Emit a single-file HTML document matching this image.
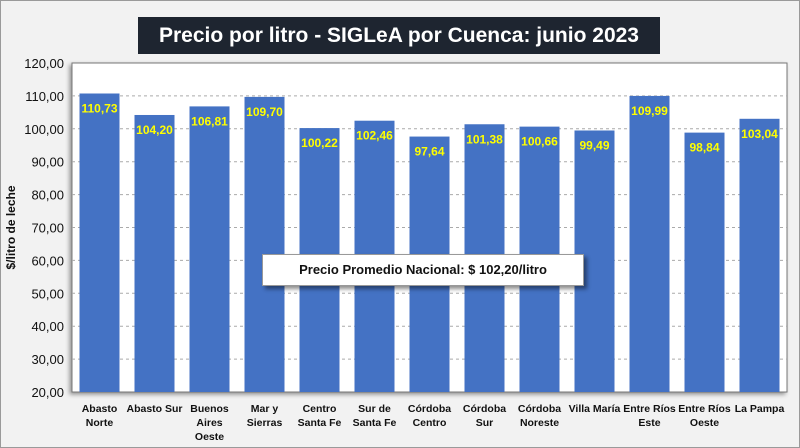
<!DOCTYPE html>
<html><head><meta charset="utf-8"><style>
body{margin:0;width:800px;height:448px;overflow:hidden;background:#f2f2f2;font-family:"Liberation Sans",Arial,sans-serif;}
#frame{position:absolute;left:0;top:0;width:798px;height:446px;border:1px solid #9a9a9a;background:#f2f2f2;}
#title{position:absolute;left:138px;top:17px;width:522px;height:37px;background:#1e2530;color:#fff;font-weight:bold;font-size:21px;line-height:37px;text-align:center;white-space:nowrap;}
#callout{position:absolute;left:262px;top:254px;width:320px;height:30px;background:#fff;border:1px solid #999;box-shadow:3px 3px 4px rgba(0,0,0,.45);font-weight:bold;font-size:13px;line-height:30px;text-align:center;color:#111;}
</style></head><body>
<div id="frame"></div>
<div id="title">Precio por litro - SIGLeA por Cuenca: junio 2023</div>
<svg id="chart" width="800" height="448" style="position:absolute;left:0;top:0"></svg>
<div id="callout">Precio Promedio Nacional: $ 102,20/litro</div>
<script>
const categories=[["Abasto","Norte"],["Abasto Sur"],["Buenos","Aires","Oeste"],["Mar y","Sierras"],["Centro","Santa Fe"],["Sur de","Santa Fe"],["Córdoba","Centro"],["Córdoba","Sur"],["Córdoba","Noreste"],["Villa María"],["Entre Ríos","Este"],["Entre Ríos","Oeste"],["La Pampa"]];
const values=[110.73,104.20,106.81,109.70,100.22,102.46,97.64,101.38,100.66,99.49,109.99,98.84,103.04];
const yTicks=[20,30,40,50,60,70,80,90,100,110,120];
const NS="http://www.w3.org/2000/svg";
const svg=document.getElementById('chart');
const L=72,R=787,T=63,B=392,ymin=20,ymax=120;
const y=v=>B-(v-ymin)/(ymax-ymin)*(B-T);
const band=(R-L)/categories.length;
const x=i=>L+band*i+band/2;
const fmt=v=>v.toFixed(2).replace('.',',');
function mk(t,a,p){const e=document.createElementNS(NS,t);for(const k in a)e.setAttribute(k,a[k]);(p||svg).appendChild(e);return e;}
const plot=mk('rect',{x:L,y:T,width:R-L,height:B-T,fill:'#fff',stroke:'#777','stroke-width':1,style:'filter:drop-shadow(-2px 2px 2px rgba(0,0,0,.4))'});


yTicks.forEach(t=>{
  if(t>ymin&&t<ymax){const g=mk('line',{x1:L,x2:R,y1:y(t),y2:y(t),stroke:'#aaa','stroke-dasharray':'3,3'});
  
  }
  const tl=mk('text',{x:64,y:y(t)+5,'text-anchor':'end','font-size':13,fill:'#111'});
  tl.textContent=fmt(t);
  
  
});
const yt=mk('text',{x:0,y:0,'text-anchor':'middle','font-size':12,'font-weight':'bold',fill:'#111',transform:`translate(15,${(T+B)/2}) rotate(-90)`});
yt.textContent='$/litro de leche';


const bw=40;
values.forEach((v,i)=>{
  const r=mk('rect',{x:x(i)-bw/2,y:y(v),width:bw,height:B-y(v),fill:'#4472c4'});
  
  
  const lb=mk('text',{x:x(i),y:y(v)+19,'text-anchor':'middle','font-size':12,'font-weight':'bold',fill:'#ffff00'});
  lb.textContent=fmt(v);
  
  
  const cl=mk('text',{x:x(i),y:412,'text-anchor':'middle','font-size':10.5,'font-weight':'bold',fill:'#111'});
  
  
  categories[i].forEach((s,j)=>{const ts=mk('tspan',{x:x(i),dy:j?14:0},cl);ts.textContent=s;});
});
</script>
</body></html>
